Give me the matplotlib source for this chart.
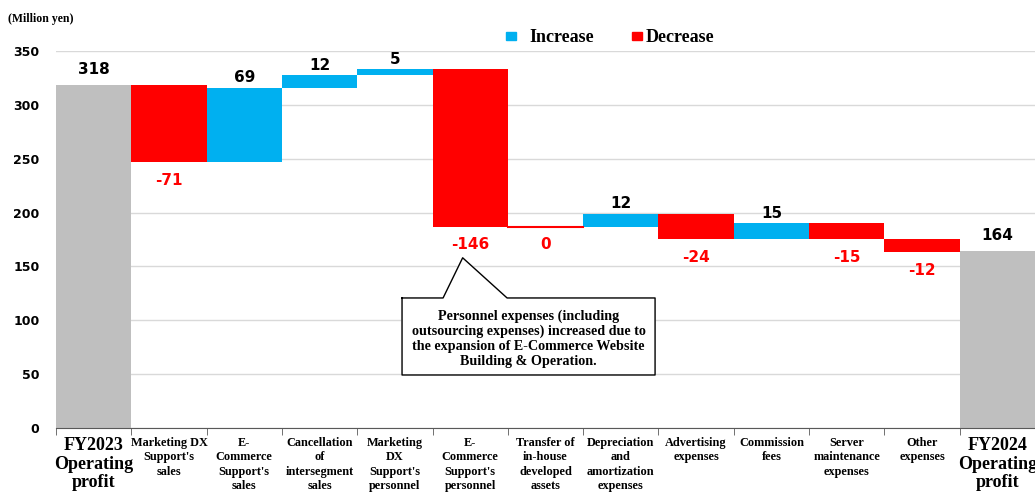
import numpy as np
import matplotlib.pyplot as plt
from matplotlib.patches import Rectangle

# Waterfall data (million yen)
categories = ["FY2023\nOperating\nprofit", "Marketing DX\nSupport's\nsales",
              "E-\nCommerce\nSupport's\nsales", "Cancellation\nof\nintersegment\nsales",
              "Marketing\nDX\nSupport's\npersonnel", "E-\nCommerce\nSupport's\npersonnel",
              "Transfer of\nin-house\ndeveloped\nassets", "Depreciation\nand\namortization\nexpenses",
              "Advertising\nexpenses", "Commission\nfees", "Server\nmaintenance\nexpenses",
              "Other\nexpenses", "FY2024\nOperating\nprofit"]
start_total = 318
deltas = [-71, 69, 12, 5, -146, 0, 12, -24, 15, -15, -12]
end_total = 164
yticks = [0, 50, 100, 150, 200, 250, 300, 350]

C_TOTAL = "#BFBFBF"
C_UP = "#00B0F0"
C_DOWN = "#FF0000"
SERIF = "Liberation Serif"
SANS = "DejaVu Sans"

W, H = 1035, 495
fig = plt.figure(figsize=(W / 100, H / 100), dpi=100)
ax = fig.add_axes([0.0541, 0.1354, 0.9459, 0.7616])

n = len(categories)
x = np.arange(n)

# totals
ax.bar(0, start_total, width=1.0, color=C_TOTAL)
ax.bar(n - 1, end_total, width=1.0, color=C_TOTAL)
ax.text(0, start_total + 8, str(start_total), ha="center", va="bottom",
        fontsize=11, fontweight="bold", family=SANS)
ax.text(n - 1, end_total + 8, str(end_total), ha="center", va="bottom",
        fontsize=11, fontweight="bold", family=SANS)

level = start_total
for i, d in enumerate(deltas, start=1):
    if d == 0:
        ax.plot([i - 0.5, i + 0.5], [level, level], color=C_DOWN, lw=1.5)
        ax.text(i, level - 10, "0", ha="center", va="top", color=C_DOWN,
                fontsize=11, fontweight="bold", family=SANS)
        continue
    lo = min(level, level + d)
    color = C_UP if d > 0 else C_DOWN
    ax.bar(i, abs(d), bottom=lo, width=1.0, color=color)
    if d > 0:
        ax.text(i, level + d + 2, str(d), ha="center", va="bottom",
                fontsize=11, fontweight="bold", family=SANS)
    else:
        ax.text(i, level + d - 10, str(d), ha="center", va="top", color=C_DOWN,
                fontsize=11, fontweight="bold", family=SANS)
    level += d

ax.set_xlim(-0.5, n - 0.5)
ax.set_ylim(0, 350)
ax.set_yticks(yticks)
ax.set_yticklabels([str(v) for v in yticks], fontsize=9, fontweight="bold", family=SANS)
ax.tick_params(axis="y", length=0, pad=12)
ax.yaxis.grid(True, color="#D9D9D9", lw=1)
ax.set_axisbelow(True)

ax.set_xticks(x)
ax.set_xticklabels([])
ax.set_xticks(np.arange(n + 1) - 0.5, minor=True)
ax.tick_params(axis="x", which="major", length=0)
ax.tick_params(axis="x", which="minor", length=5, color="#595959", direction="out")
for i, lab in enumerate(categories):
    big = i in (0, n - 1)
    ax.text(i, -8, lab, ha="center", va="top", fontsize=13 if big else 8.8,
            fontweight="bold", family=SERIF, linespacing=1.15 if big else 1.28,
            clip_on=False)

for s in ("top", "right", "left"):
    ax.spines[s].set_visible(False)
ax.spines["bottom"].set_color("#595959")

# callout
tip = (4.9, 158)
box = [(4.095, 120.7), (4.64, 120.7), tip, (5.49, 120.7), (7.455, 120.7),
       (7.455, 49.2), (4.095, 49.2), (4.095, 120.7)]
bx, by = zip(*box)
ax.fill(bx, by, color="white", zorder=4)
ax.plot(bx, by, color="black", lw=1.0, zorder=5)
ax.text(5.775, 83, "Personnel expenses (including\noutsourcing expenses) increased due to\n"
        "the expansion of E-Commerce Website\nBuilding & Operation.",
        ha="center", va="center", fontsize=10.2, fontweight="bold", family=SERIF,
        linespacing=1.2, zorder=6)

# legend (manual, matching the uneven spacing of the original)
for sq_x, txt_x, col, lab in [(506, 529, C_UP, "Increase"), (632, 646, C_DOWN, "Decrease")]:
    fig.patches.append(Rectangle((sq_x / W, 1 - 40 / H), 10 / W, 8 / H,
                                 transform=fig.transFigure, color=col))
    fig.text(txt_x / W, 1 - 37 / H, lab, ha="left", va="center", fontsize=13,
             fontweight="bold", family=SERIF)

fig.text(0.008, 0.962, "(Million yen)", fontsize=8.5, fontweight="bold", family=SERIF,
         ha="left", va="center")

fig.savefig("out.png", dpi=100)
